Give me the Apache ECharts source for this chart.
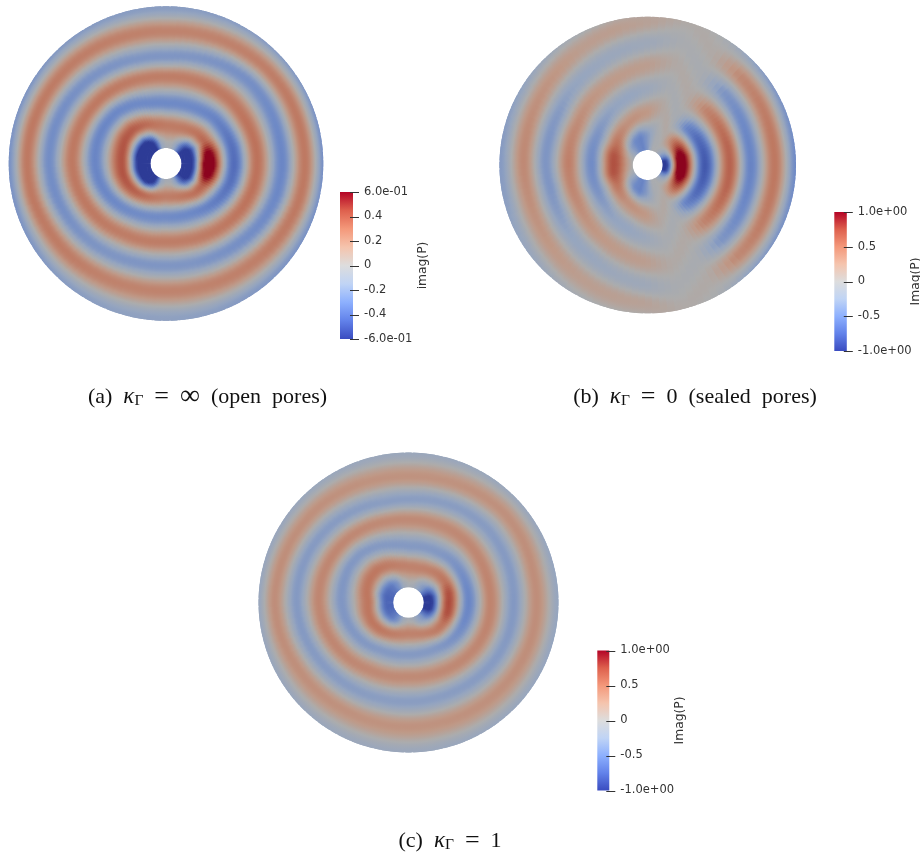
<!DOCTYPE html>
<html><head><meta charset="utf-8">
<style>html,body{margin:0;padding:0;background:#fff}#c{width:920px;height:855px}</style>
<script src="https://cdn.jsdelivr.net/npm/echarts@6/dist/echarts.min.js"></script>
</head><body><div id="c"></div>
<script>
// sampled directions (degrees, counter-clockwise from +x)
const angles=[0,15,30,45,60,75,90,105,120,135,150,165,180,195,210,225,240,255,270,285,300,315,330,345];
// ring radii (px-like disk units) per direction, ring values per direction
const aRadii=[[22,42,68,91,116,139,160],[22,43,68,91,116,139,160],[22,44,67,90,117,139,161],[22,43,66,90,117,138,161],[20,40,63,89,114,136,160],[17,38,61,88,110,134,158],[16,38,60,87,107,132,156],[18,40,62,88,108,133,157],[22,44,67,90,111,135,158],[23,47,71,92,114,137,159],[23,47,72,93,116,138,159],[23,45,72,94,117,139,159],[22,44,71,94,117,139,158],[22,44,69,92,115,138,158],[22,43,66,89,112,135,158],[22,41,62,86,109,133,158],[21,38,58,82,106,130,157],[18,35,55,80,103,128,156],[16,33,53,78,102,127,155],[17,34,54,79,103,128,156],[20,37,56,82,105,130,157],[22,41,60,85,108,132,158],[22,42,64,88,112,135,159],[22,42,67,90,115,138,160]];
const aValues=[[-.8,.78,-.48,.36,-.36,.33,-.34],[-.8,.65,-.46,.36,-.35,.33,-.33],[-.75,.36,-.41,.35,-.33,.32,-.31],[-.5,.31,-.37,.33,-.31,.3,-.28],[-.2,.29,-.35,.32,-.29,.29,-.25],[-.05,.28,-.34,.31,-.27,.28,-.23],[-.05,.28,-.34,.31,-.27,.28,-.22],[-.15,.3,-.34,.31,-.27,.29,-.23],[-.55,.34,-.34,.32,-.28,.3,-.24],[-.8,.39,-.35,.33,-.29,.31,-.26],[-.85,.41,-.36,.33,-.31,.32,-.28],[-.9,.42,-.36,.33,-.32,.33,-.29],[-.9,.42,-.36,.33,-.32,.33,-.3],[-.9,.42,-.36,.33,-.32,.33,-.29],[-.85,.4,-.35,.33,-.3,.32,-.27],[-.8,.37,-.34,.32,-.28,.31,-.24],[-.55,.33,-.33,.31,-.27,.29,-.22],[-.15,.29,-.33,.31,-.27,.28,-.2],[-.05,.27,-.33,.31,-.27,.28,-.2],[-.05,.28,-.34,.31,-.27,.28,-.21],[-.2,.3,-.35,.32,-.29,.29,-.24],[-.5,.32,-.38,.33,-.31,.3,-.27],[-.75,.37,-.42,.35,-.33,.32,-.3],[-.8,.66,-.46,.36,-.35,.33,-.33]];
const bRadii=[[17,33,57,82,103,127,150,172],[17,33,57,82,103,127,150,172],[17,34,56,81,104,128,151,174],[16,35,54,80,105,128,152,176],[16,33,52,78,104,127,152,176],[32,59,83,106,129,152,176,200],[28,53,76,100,122,143,165,188],[27,49,71,94,117,139,162,184],[25,44,66,89,111,134,157,180],[22,40,61,85,107,130,153,176],[16,36,58,81,103,127,150,173],[12,35,57,80,102,125,149,172],[11,34,56,79,102,124,148,172],[12,35,56,79,100,123,147,170],[16,35,56,79,101,124,148,171],[21,38,58,82,104,127,150,173],[24,41,63,86,108,131,154,177],[26,45,67,91,114,135,158,181],[26,50,73,97,120,138,160,183],[28,55,79,102,125,148,172,196],[16,33,52,78,104,127,152,176],[16,35,54,80,105,128,152,176],[17,34,56,81,104,128,151,174],[17,33,57,82,103,127,150,172]];
const bValues=[[-1.1,1.25,-.95,.7,-.62,.56,-.6,.5],[-1,1.2,-.9,.68,-.6,.55,-.55,.5],[-.5,.85,-.8,.6,-.55,.5,-.5,.45],[-.2,.45,-.6,.45,-.45,.42,-.4,.4],[-.02,.06,-.07,.06,-.06,.05,-.05,.04],[-.05,.06,-.05,.05,-.04,.04,-.03,.03],[-.35,.25,-.2,.22,-.18,.16,-.1,.1],[-.55,.3,-.28,.25,-.22,.22,-.2,.1],[-.5,.32,-.3,.28,-.25,.22,-.2,.15],[-.3,.42,-.38,.33,-.3,.3,-.25,.2],[-.1,.55,-.47,.4,-.4,.35,-.32,.3],[-.05,.7,-.52,.45,-.45,.4,-.38,.35],[-.05,.72,-.55,.5,-.45,.42,-.4,.4],[-.05,.7,-.52,.45,-.45,.38,-.36,.33],[-.1,.55,-.47,.4,-.38,.33,-.28,.3],[-.3,.42,-.38,.33,-.28,.28,-.22,.22],[-.5,.32,-.3,.28,-.25,.22,-.15,.18],[-.55,.3,-.28,.25,-.2,.2,-.12,.15],[-.35,.25,-.2,.22,-.18,.16,-.1,.1],[-.05,.06,-.05,.05,-.04,.04,-.03,.03],[-.02,.06,-.07,.06,-.06,.05,-.05,.04],[-.2,.45,-.6,.45,-.45,.42,-.4,.4],[-.5,.85,-.8,.6,-.55,.5,-.5,.45],[-1,1.2,-.9,.68,-.6,.55,-.55,.5]];
const cRadii=[[20,40,60,82,105,128,152],[20,41,60,82,106,128,152],[20,42,60,83,107,130,153],[20,41,60,84,108,131,153],[19,38,58,84,107,129,153],[16,36,57,83,105,127,152],[15,36,56,83,103,126,151],[17,38,59,84,103,127,151],[21,42,64,86,106,129,152],[22,45,68,88,109,131,152],[22,45,69,89,111,132,152],[22,43,68,90,112,133,152],[21,40,67,90,112,134,152],[21,41,65,88,110,132,152],[21,41,62,85,107,129,152],[21,39,59,82,104,127,152],[20,36,55,78,102,125,151],[17,33,53,76,100,124,151],[15,31,52,74,99,124,151],[16,32,52,75,99,124,151],[19,35,53,77,100,125,152],[20,39,56,79,102,126,152],[20,40,58,81,104,127,152],[20,40,59,82,105,128,152]];
const cValues=[[-1.15,.75,-.6,.46,-.42,.38,-.3],[-1.1,.72,-.58,.46,-.41,.38,-.3],[-.75,.52,-.52,.44,-.4,.37,-.28],[-.4,.46,-.46,.43,-.39,.36,-.26],[-.25,.43,-.42,.42,-.38,.35,-.25],[-.1,.42,-.41,.41,-.37,.34,-.24],[-.08,.42,-.41,.41,-.37,.34,-.23],[-.15,.43,-.41,.41,-.37,.34,-.23],[-.4,.46,-.41,.42,-.38,.35,-.24],[-.6,.49,-.42,.43,-.39,.36,-.25],[-.7,.5,-.43,.44,-.4,.37,-.26],[-.75,.5,-.44,.44,-.41,.38,-.27],[-.75,.5,-.44,.44,-.41,.38,-.28],[-.75,.5,-.44,.44,-.41,.38,-.27],[-.7,.5,-.43,.44,-.4,.37,-.26],[-.6,.49,-.42,.43,-.39,.36,-.24],[-.4,.46,-.41,.42,-.38,.35,-.23],[-.15,.43,-.41,.41,-.37,.34,-.22],[-.08,.42,-.41,.41,-.37,.34,-.22],[-.1,.42,-.41,.41,-.37,.34,-.23],[-.25,.43,-.42,.42,-.38,.35,-.25],[-.4,.46,-.46,.43,-.39,.36,-.26],[-.75,.52,-.52,.44,-.4,.37,-.28],[-1.1,.72,-.58,.46,-.41,.38,-.3]];
// colour bar ticks
const aTicks=[-0.6,-0.4,-0.2,0,0.2,0.4,0.6];
const aTickLabels=['-6.0e-01','-0.4','-0.2','0','0.2','0.4','6.0e-01'];
const bTicks=[-1,-0.5,0,0.5,1];
const bTickLabels=['-1.0e+00','-0.5','0','0.5','1.0e+00'];
const captions=[
 ['(a)\u00a0\u00a0{k|κ}{s|Γ}\u00a0\u00a0{e|=}\u00a0\u00a0{i|∞}\u00a0\u00a0(open\u00a0\u00a0pores)',207.5,397],
 ['(b)\u00a0\u00a0{k|κ}{s|Γ}\u00a0\u00a0{e|=}\u00a0\u00a00\u00a0\u00a0(sealed\u00a0\u00a0pores)',695,397],
 ['(c)\u00a0\u00a0{k|κ}{s|Γ}\u00a0\u00a0{e|=}\u00a0\u00a01',450,841]];
const cool=[[58,76,192],[98,130,234],[141,176,254],[192,212,245],[221,221,221],[245,196,173],[244,152,122],[222,96,77],[180,4,38]];
function cmap(t,f){ t=Math.max(0,Math.min(1,t))*(cool.length-1);
 const i=Math.min(cool.length-2,Math.floor(t)),u=t-i,a=cool[i],b=cool[i+1];
 return 'rgb('+[0,1,2].map(k=>Math.round((a[k]+(b[k]-a[k])*u)*f)).join(',')+')';}
const LIT=0.78, OUTER_GAIN=0.88;
const panels=[
 {radii:aRadii,values:aValues,scale:.6,cx:166,cy:163.5,R:157.3,hole:15.5,bar:[340,192,13,147],ticks:aTicks,labels:aTickLabels,name:'imag(P)',gap:58},
 {radii:bRadii,values:bValues,scale:1,cx:647.7,cy:165,R:148.3,hole:15,bar:[834.3,212,12.5,139],ticks:bTicks,labels:bTickLabels,name:'Imag(P)',gap:57},
 {radii:cRadii,values:cValues,scale:1,cx:408.5,cy:602.5,R:150,hole:15.3,bar:[597.3,650.5,12,140],ticks:bTicks,labels:bTickLabels,name:'Imag(P)',gap:59}];
const SUB=5;
function fieldAt(p,th,r){
 const n=angles.length,s=360/n,x=((th%360)+360)%360/s,i=Math.floor(x)%n,u=x-Math.floor(x),j=(i+1)%n;
 const R1=p.radii[i],R2=p.radii[j],V1=p.values[i],V2=p.values[j],m=R1.length;
 let pr,pv,qr,qv;
 qr=R1[0]*(1-u)+R2[0]*u;qv=V1[0]*(1-u)+V2[0]*u;
 if(r<=qr)return qv;
 for(let k=1;k<m;k++){
  pr=qr;pv=qv;qr=R1[k]*(1-u)+R2[k]*u;qv=(V1[k]*(1-u)+V2[k]*u)*(k>=2?OUTER_GAIN:1);
  if(r<=qr){const f=(r-pr)/Math.max(qr-pr,.01);return pv+(qv-pv)*(1-Math.cos(Math.PI*f))/2;}
 }
 return qv;
}
const capStyle={fontFamily:'Liberation Serif',color:'#111'};
const option={animation:false,backgroundColor:'#fff',polar:[],angleAxis:[],radiusAxis:[],grid:[],xAxis:[],yAxis:[],series:[],
 title:captions.map(c=>({text:c[0],left:c[1],top:c[2],padding:0,textAlign:'center',textVerticalAlign:'middle',
  textStyle:{fontFamily:'Liberation Serif',fontSize:22,fontWeight:'normal',color:'#111',
   rich:{k:{...capStyle,fontStyle:'italic',fontSize:23},s:{...capStyle,fontSize:15.5,padding:[7,0,0,0]},e:{...capStyle,fontSize:26},i:{...capStyle,fontSize:28}}}}))};
panels.forEach((p,idx)=>{
 option.polar.push({center:[p.cx,p.cy],radius:p.R});
 option.angleAxis.push({polarIndex:idx,type:'value',min:0,max:360,startAngle:0,clockwise:false,show:false});
 option.radiusAxis.push({polarIndex:idx,type:'value',min:0,max:p.R,show:false});
 const fine=[];
 angles.forEach(a=>{for(let k=0;k<SUB;k++)fine.push([p.R,a+k*(360/angles.length)/SUB]);});
 const w=360/angles.length/SUB, o=1.2;
 option.series.push({type:'custom',coordinateSystem:'polar',polarIndex:idx,silent:true,clip:false,data:fine,
  renderItem:(params,api)=>{
   const th=api.value(1),cs=params.coordSys,cx=cs.cx,cy=cs.cy;
   const pt=api.coord([p.R,th+w+o]);
   const Rp=Math.hypot(pt[0]-cx,pt[1]-cy),start=Math.atan2(pt[1]-cy,pt[0]-cx);
   const stops=[];const N=Math.ceil(p.R/2);
   for(let i=0;i<=N;i++){const r=p.R*i/N,v=fieldAt(p,th+w/2,r)/p.scale;stops.push({offset:i/N,color:cmap((v+1)/2,LIT)});}
   return {type:'sector',shape:{cx,cy,r0:p.hole,r:Rp,startAngle:start,endAngle:start+(w+2*o)*Math.PI/180,clockwise:true},
    style:{fill:{type:'radial',x:cx,y:cy,r:Rp,global:true,colorStops:stops}}};
  }});
 option.grid.push({left:p.bar[0],top:p.bar[1],width:p.bar[2],height:p.bar[3],outerBoundsMode:'none',containLabel:false,z:1});
 option.xAxis.push({gridIndex:idx,type:'value',min:0,max:1,show:false});
 const lo=p.ticks[0],hi=p.ticks[p.ticks.length-1];
 option.yAxis.push({gridIndex:idx,type:'value',position:'right',offset:6,min:lo,max:hi,interval:p.ticks[1]-p.ticks[0],z:20,
  axisLine:{show:false},splitLine:{show:false},axisTick:{show:false},
  axisLabel:{margin:5,color:'#333',fontFamily:'DejaVu Sans',fontSize:11.5,
   formatter:v=>{let b=0;p.ticks.forEach((t,i)=>{if(Math.abs(t-v)<Math.abs(p.ticks[b]-v))b=i;});return p.labels[b];}},
  name:p.name,nameLocation:'middle',nameRotate:90,nameGap:p.gap,nameMoveOverlap:false,nameTextStyle:{color:'#333',fontFamily:'DejaVu Sans',fontSize:12.3}});
 option.series.push({type:'custom',coordinateSystem:'cartesian2d',xAxisIndex:idx,yAxisIndex:idx,silent:true,z:1,data:[[0,lo,1,hi]],
  renderItem:(params,api)=>{
   const a=api.coord([0,api.value(3)]),b=api.coord([1,api.value(1)]);
   const stops=cool.map((c,i)=>({offset:i/(cool.length-1),color:cmap(1-i/(cool.length-1),1)}));
   return {type:'rect',shape:{x:a[0],y:a[1],width:b[0]-a[0],height:b[1]-a[1]},
    style:{fill:{type:'linear',x:0,y:0,x2:0,y2:1,colorStops:stops}}};
  }});
 // tick marks straddle the bar's right edge, one per tick value
 option.series.push({type:'custom',coordinateSystem:'cartesian2d',xAxisIndex:idx,yAxisIndex:idx,silent:true,z:5,clip:false,
  data:p.ticks.map(t=>[t]),
  renderItem:(params,api)=>{
   const q=api.coord([1,api.value(0)]),y=Math.round(q[1])+.5;
   return {type:'line',shape:{x1:q[0]-3,y1:y,x2:q[0]+6,y2:y},style:{stroke:'#333',lineWidth:1}};
  }});
});
const chart=echarts.init(document.getElementById('c'),null,{renderer:'canvas',width:920,height:855});
chart.setOption(option);
</script></body></html>
